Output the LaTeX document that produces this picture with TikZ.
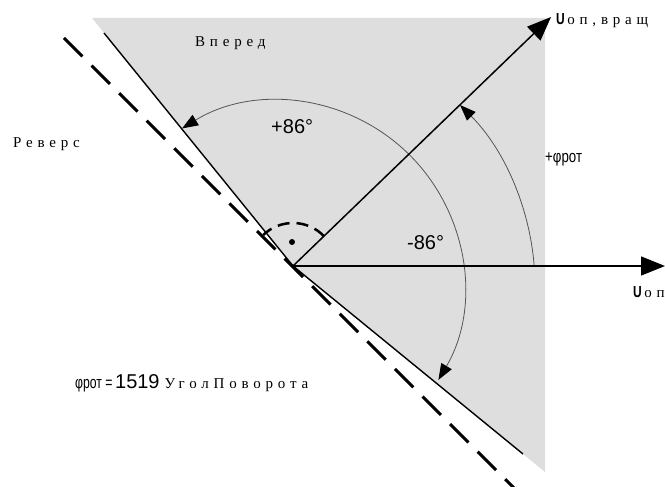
\documentclass[tikz,border=0pt]{standalone}
\usepackage{fontspec}
\setmainfont{Liberation Serif}
\newfontfamily\sansf{Liberation Sans}
\newfontfamily\rusp[LetterSpace=32]{Liberation Serif}
\usetikzlibrary{arrows.meta}
\definecolor{fillgrey}{RGB}{222,222,222}
\definecolor{arcgrey}{RGB}{85,85,85}
\begin{document}
\begin{tikzpicture}[x=1pt,y=-1pt,
  axisarrow/.style={line width=1.5pt, -{Triangle[length=24pt,width=19pt]}},
  solidline/.style={line width=1.4pt},
  angarc/.style={draw=arcgrey, line width=0.8pt, -{Triangle[length=16pt,width=12pt,color=black]}},
  dashline/.style={line width=3pt, dash pattern=on 26pt off 13pt},
  rightarc/.style={line width=2.5pt, dash pattern=on 12pt off 7pt},
  rlabel/.style={font=\rusp\fontsize{15}{18}\selectfont, inner sep=0pt, anchor=base west},
  slabel/.style={font=\sansf\fontsize{20}{24}\selectfont, inner sep=0pt, anchor=base west}]
\clip (0,0) rectangle (665,487);
\coordinate (O) at (293,266);
\coordinate (C) at (279,286);
\coordinate (UL) at (104,33);
\coordinate (LR) at (523,454);
\coordinate (G1) at (92,18);
\coordinate (G2) at (545,18);
\coordinate (G3) at (545,472);
\coordinate (D1) at (64,38);
\coordinate (D2) at (524,498);
\coordinate (Xtip) at (665,266);
\coordinate (Vtip) at (551,17);
% grey sector
\fill[fillgrey] (G1) -- (G2) -- (G3) -- (O) -- cycle;
% solid boundary lines
\draw[solidline] (UL) -- (O) -- (LR);
% dashed perpendicular
\draw[dashline] (D1) -- (D2);
% angle arcs
\draw[angarc] (C) ++(-45.4:185) arc[start angle=-45.4, end angle=-121.6, radius=185];
\draw[angarc] (C) ++(-45.4:185) arc[start angle=-45.4, end angle=30.5, radius=185];
\draw[angarc] (C) ++(-4.43:256) arc[start angle=-4.43, end angle=-45, radius=256];
% right angle marker
\draw[rightarc] (O) ++(-44:43) arc[start angle=-44, end angle=-134, radius=43];
\fill (292,242) circle[radius=3];
% axes
\draw[axisarrow] (O) -- (Xtip);
\draw[axisarrow] (O) -- (Vtip);
% labels
\node[rlabel] (vpered) at (195,47) {Вперед};
\node[rlabel] (revers) at (13,147) {Реверс};
\node[rlabel] (uvr) at (556,25) {{\sansf\bfseries\fontsize{16}{18}\selectfont\scalebox{0.75}[1]{U}}\,оп,вращ};
\node[rlabel] (uop) at (633,297) {{\sansf\bfseries\fontsize{16}{18}\selectfont\scalebox{0.75}[1]{U}}\,оп};
\node[slabel] (p86) at (271,133) {+86°};
\node[slabel] (m86) at (407,249) {-86°};
\node[inner sep=0pt, anchor=base west, font=\sansf\fontsize{17}{20}\selectfont] (phirot) at (545,163) {\scalebox{0.78}[1]{+φрот}};
\node[inner sep=0pt, anchor=base west] (bottom) at (75,388) {{\sansf\fontsize{17}{20}\selectfont\scalebox{0.72}[1]{φрот =}} {\sansf\fontsize{20}{24}\selectfont 1519}\hspace{5pt}{\rusp\fontsize{15}{18}\selectfont УголПоворота}};
\end{tikzpicture}
\end{document}
